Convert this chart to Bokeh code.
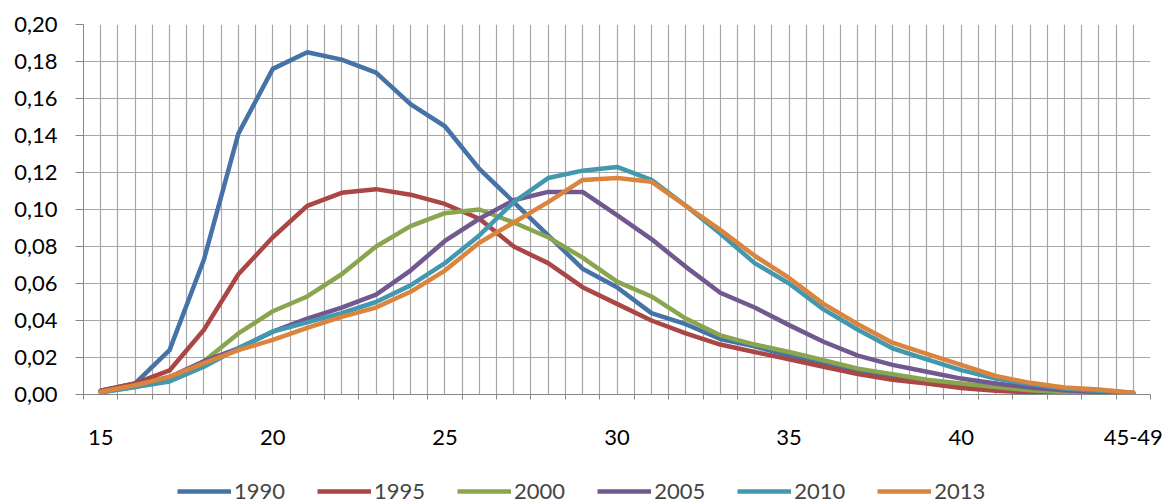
from bokeh.plotting import figure
from bokeh.layouts import column
from bokeh.models import (Range1d, FixedTicker, CustomJSTickFormatter, Legend, LegendItem)
from bokeh.embed import file_html
from bokeh.resources import INLINE

ages = list(range(15, 46))
x_tick_labels = {15: "15", 20: "20", 25: "25", 30: "30", 35: "35", 40: "40", 45: "45-49"}
years = ["1990", "1995", "2000", "2005", "2010", "2013"]

y1990 = [0.002, 0.006, 0.024, 0.073, 0.141, 0.176, 0.185, 0.181, 0.174, 0.157, 0.145, 0.122, 0.104, 0.086,
         0.068, 0.058, 0.044, 0.038, 0.030, 0.026, 0.021, 0.017, 0.012, 0.0095, 0.007, 0.0045, 0.003, 0.0018,
         0.001, 0.0006, 0.0003]
y1995 = [0.002, 0.006, 0.013, 0.035, 0.065, 0.085, 0.102, 0.109, 0.111, 0.108, 0.103, 0.095, 0.080, 0.071,
         0.058, 0.049, 0.040, 0.033, 0.027, 0.023, 0.019, 0.015, 0.011, 0.008, 0.006, 0.0035, 0.002, 0.0012,
         0.0007, 0.0004, 0.0002]
y2000 = [0.0015, 0.004, 0.009, 0.018, 0.033, 0.045, 0.053, 0.065, 0.080, 0.091, 0.098, 0.100, 0.093, 0.085,
         0.074, 0.061, 0.053, 0.041, 0.032, 0.027, 0.023, 0.0185, 0.014, 0.011, 0.008, 0.006, 0.004, 0.0023,
         0.0014, 0.0008, 0.0005]
y2005 = [0.0015, 0.005, 0.0095, 0.018, 0.025, 0.034, 0.041, 0.047, 0.054, 0.067, 0.083, 0.095, 0.105, 0.1095,
         0.1095, 0.097, 0.084, 0.069, 0.055, 0.047, 0.0375, 0.0285, 0.021, 0.016, 0.0123, 0.0086, 0.006, 0.0038,
         0.0023, 0.0014, 0.0008]
y2010 = [0.001, 0.004, 0.007, 0.015, 0.025, 0.034, 0.039, 0.044, 0.050, 0.059, 0.071, 0.086, 0.104, 0.117,
         0.121, 0.123, 0.116, 0.102, 0.087, 0.071, 0.060, 0.046, 0.035, 0.025, 0.019, 0.0132, 0.0086, 0.0056,
         0.0032, 0.002, 0.001]
y2013 = [0.0015, 0.005, 0.0095, 0.017, 0.024, 0.0295, 0.036, 0.042, 0.047, 0.0555, 0.067, 0.082, 0.093, 0.104,
         0.116, 0.117, 0.115, 0.102, 0.089, 0.075, 0.063, 0.049, 0.038, 0.028, 0.022, 0.016, 0.010, 0.0063,
         0.0038, 0.0027, 0.001]

series = [y1990, y1995, y2000, y2005, y2010, y2013]
colors = ["#4572A7", "#AA4643", "#89A54E", "#71588F", "#4198AF", "#DB843D"]

FONT = "Lato"
x_lo, x_hi = ages[0] - 0.5, ages[-1] + 0.5

p = figure(width=1164, height=478, output_backend="svg", toolbar_location=None,
           x_range=Range1d(x_lo, x_hi), y_range=Range1d(0, 0.20),
           min_border_left=83, min_border_right=14, min_border_top=24, min_border_bottom=84)
p.outline_line_color = None
p.background_fill_color = "white"
p.border_fill_color = "white"

for name, ys, c in zip(years, series, colors):
    p.line(ages, ys, line_color=c, line_width=4.5, line_join="round", line_cap="round")

half_steps = [x_lo + 0.5 * i for i in range(int((x_hi - x_lo) * 2) + 1)]
unit_steps = [x_lo + i for i in range(int(x_hi - x_lo) + 1)]

# x axis
xa = p.xaxis[0]
xa.ticker = FixedTicker(ticks=list(x_tick_labels.keys()), minor_ticks=unit_steps)
xa.major_label_overrides = {k: v for k, v in x_tick_labels.items()}
xa.major_tick_line_color = None
xa.major_tick_out = 0
xa.major_tick_in = 0
xa.minor_tick_line_color = "#868686"
xa.minor_tick_out = 5
xa.minor_tick_in = 0
xa.axis_line_color = "#868686"
xa.major_label_text_font = FONT
xa.major_label_text_font_size = "22px"
xa.major_label_text_color = "black"
xa.major_label_standoff = 30

# y axis
ya = p.yaxis[0]
ya.ticker = FixedTicker(ticks=[i * 0.02 for i in range(11)])
ya.formatter = CustomJSTickFormatter(code="return tick.toFixed(2).replace('.', ',');")
ya.minor_tick_line_color = None
ya.major_tick_line_color = "#868686"
ya.major_tick_out = 8
ya.major_tick_in = 0
ya.axis_line_color = "#868686"
ya.major_label_text_font = FONT
ya.major_label_text_font_size = "22px"
ya.major_label_text_color = "black"
ya.major_label_standoff = 18

p.xgrid.ticker = FixedTicker(ticks=half_steps)
p.xgrid.grid_line_color = "#A6A6A6"
p.xgrid.grid_line_width = 1.2
p.ygrid.ticker = FixedTicker(ticks=[i * 0.02 for i in range(11)])
p.ygrid.grid_line_color = "#A6A6A6"
p.ygrid.grid_line_width = 1.2

# legend strip below the chart
lp = figure(width=1164, height=26, output_backend="svg", toolbar_location=None,
            x_axis_location=None, y_axis_location=None,
            min_border_left=0, min_border_right=0, min_border_top=0, min_border_bottom=0,
            x_range=Range1d(0, 1), y_range=Range1d(0, 1))
lp.outline_line_color = None
lp.grid.visible = False
items = []
for name, c in zip(years, colors):
    r = lp.line([5, 6], [5, 6], line_color=c, line_width=4.5)
    items.append(LegendItem(label=name, renderers=[r]))
legend = Legend(items=items, orientation="horizontal", location=(94, 0),
                glyph_width=54, glyph_height=22, label_standoff=3, spacing=32,
                padding=0, margin=0, background_fill_alpha=0, border_line_color=None,
                label_text_font=FONT, label_text_font_size="22px", label_height=22)
lp.add_layout(legend, "center")

layout = column(p, lp, spacing=0)
open("out.html", "w").write(file_html(layout, INLINE))
